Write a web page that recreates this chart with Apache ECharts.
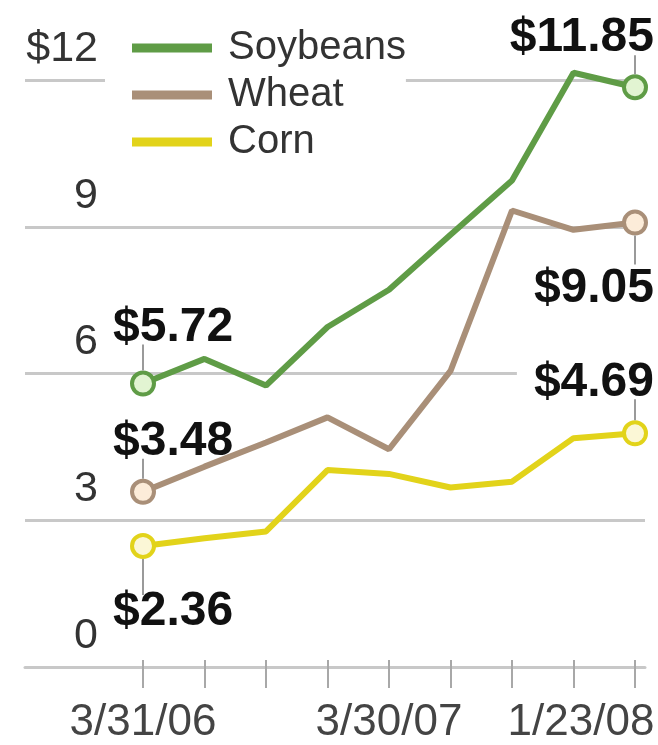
<!DOCTYPE html>
<html>
<head>
<meta charset="utf-8">
<script src="https://cdn.jsdelivr.net/npm/echarts@6/dist/echarts.min.js"></script>
<style>
  html, body { margin: 0; padding: 0; background: #fff; }
  #chart { width: 658px; height: 745px; }
</style>
</head>
<body>
<div id="chart"></div>
<script>
// Commodity prices, dollars per bushel, sampled at nine dates
const periods = ['0', '1', '2', '3', '4', '5', '6', '7', '8'];
const xTickLabels = ['3/31/06', '', '', '', '3/30/07', '', '', '', '1/23/08'];
const yTicks = [0, 3, 6, 9, 12];
const yTickLabels = ['0', '3', '6', '9', '$12'];

const soybeans = [5.72, 6.23, 5.68, 6.89, 7.66, 8.8, 9.92, 12.15, 11.85];
const wheat = [3.48, 4.0, 4.5, 5.02, 4.36, 5.98, 9.3, 8.9, 9.05];
const corn = [2.36, 2.52, 2.66, 3.93, 3.85, 3.57, 3.69, 4.59, 4.69];

const FONT = '"Liberation Sans", Arial, Helvetica, sans-serif';
const GRID_TOP = 80, GRID_BOTTOM = 78;

// Callout for an end point: bold price with a thin stem down/up to the marker
function endLabel(v, side, above, stem) {
  const txt = '{v|$' + v.toFixed(2) + '}';
  const stemRow = side === 'left' ? '{g|}{s|}' : '{s|}{g|}';
  return {
    show: true,
    position: above ? 'top' : 'bottom',
    distance: 0,
    align: side,
    verticalAlign: above ? 'bottom' : 'top',
    offset: [side === 'left' ? -36 : 25, 0],
    formatter: above ? txt + '\n' + stemRow : stemRow + '\n' + txt,
    rich: {
      v: {
        fontFamily: FONT, fontSize: 48, fontWeight: 'bold', color: '#111',
        lineHeight: 34,
        backgroundColor: side === 'left' ? 'transparent' : '#fff',
        padding: side === 'left' ? [0, 6, 0, 6] : [0, 6, 0, 17]
      },
      g: { width: side === 'left' ? 35 : 24, height: stem },
      s: { width: 2, height: stem, backgroundColor: '#9a9a9a' }
    }
  };
}

function buildData(values, first, last) {
  const n = values.length;
  return values.map((v, i) => {
    if (i === 0) return { value: v, label: endLabel(v, 'left', first.above, first.stem) };
    if (i === n - 1) return { value: v, label: endLabel(v, 'right', last.above, last.stem) };
    return { value: v, symbol: 'none' };
  });
}

function lineSeries(name, values, color, fill, first, last) {
  return {
    name: name,
    type: 'line',
    xAxisIndex: 1,
    yAxisIndex: 1,
    clip: false,
    data: buildData(values, first, last),
    symbol: 'circle',
    symbolSize: 22,
    showSymbol: true,
    lineStyle: { color: color, width: 6 },
    itemStyle: { color: fill, borderColor: color, borderWidth: 4 },
    emphasis: { disabled: true },
    z: 3
  };
}

const COLORS = { soy: '#5f9c46', wheat: '#a98f78', corn: '#e2d31a' };

const option = {
  animation: false,
  backgroundColor: '#fff',
  textStyle: { fontFamily: FONT },
  legend: {
    orient: 'vertical',
    left: 105,
    top: 23,
    padding: [5, 0, 5, 27],
    backgroundColor: '#fff',
    icon: 'rect',
    itemWidth: 80,
    itemHeight: 9,
    itemGap: 7,
    z: 10,
    textStyle: { fontFamily: FONT, fontSize: 40, lineHeight: 40, color: '#333', padding: [0, 0, 0, 11] },
    data: [
      { name: 'Soybeans', itemStyle: { color: COLORS.soy, borderWidth: 0 } },
      { name: 'Wheat', itemStyle: { color: COLORS.wheat, borderWidth: 0 } },
      { name: 'Corn', itemStyle: { color: COLORS.corn, borderWidth: 0 } }
    ]
  },
  grid: [
    { left: 25, right: 13, top: GRID_TOP, bottom: GRID_BOTTOM },
    { left: 143, right: 23, top: GRID_TOP, bottom: GRID_BOTTOM }
  ],
  xAxis: [
    {
      gridIndex: 0, type: 'value', min: 0, max: 1,
      axisLine: { show: true, lineStyle: { color: '#c8c8c8', width: 3 } },
      axisTick: { show: false }, axisLabel: { show: false }, splitLine: { show: false }
    },
    {
      gridIndex: 1, type: 'category', data: periods, boundaryGap: false,
      axisLine: { show: false },
      axisTick: { show: true, interval: 0, length: 28, lineStyle: { color: '#a8a8a8', width: 2 } },
      axisLabel: {
        interval: 0,
        margin: 41,
        fontFamily: FONT, fontSize: 44, color: '#444',
        formatter: (val, i) => (i === periods.length - 1 ? '{last|' + xTickLabels[i] + '}' : xTickLabels[i]),
        rich: { last: { fontFamily: FONT, fontSize: 44, color: '#444', padding: [0, 108, 0, 0] } }
      },
      splitLine: { show: false }
    }
  ],
  yAxis: [
    {
      gridIndex: 0, type: 'value', min: 0, max: 12, interval: 3,
      axisLine: { show: false }, axisTick: { show: false },
      splitLine: { show: true, lineStyle: { color: '#c8c8c8', width: 3 } },
      axisLabel: {
        inside: true, margin: 73, align: 'right', verticalAlign: 'bottom',
        padding: [0, 0, 10, 0],
        fontFamily: FONT, fontSize: 43, lineHeight: 42, color: '#333',
        formatter: (v) => yTickLabels[yTicks.indexOf(v)]
      }
    },
    { gridIndex: 1, type: 'value', min: 0, max: 12, interval: 3, show: false }
  ],
  series: [
    lineSeries('Corn', corn, COLORS.corn, '#fbf7d6', { above: false, stem: 36 }, { above: true, stem: 21 }),
    lineSeries('Wheat', wheat, COLORS.wheat, '#fcecd9', { above: true, stem: 20 }, { above: false, stem: 36 }),
    lineSeries('Soybeans', soybeans, COLORS.soy, '#e2f4d2', { above: true, stem: 26 }, { above: true, stem: 19 })
  ]
};

const chart = echarts.init(document.getElementById('chart'), null, { renderer: 'canvas' });
chart.setOption(option);
</script>
</body>
</html>
